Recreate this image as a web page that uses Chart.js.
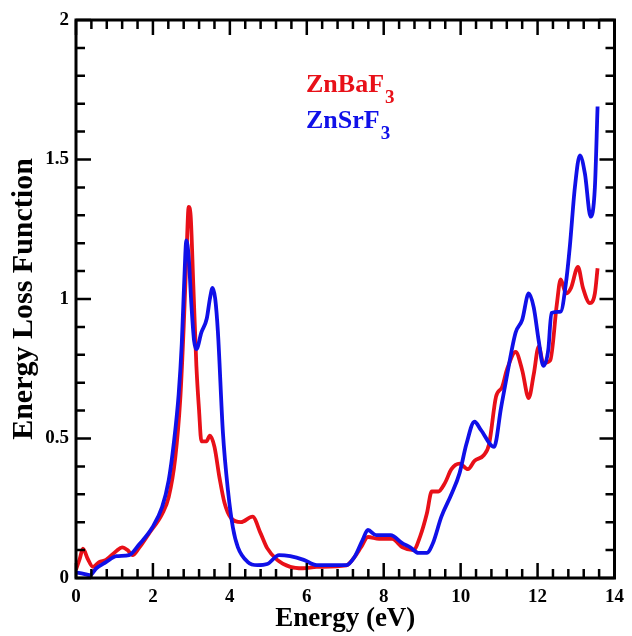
<!DOCTYPE html>
<html>
<head>
<meta charset="UTF-8">
<title>Energy Loss Function</title>
<script src="https://cdn.jsdelivr.net/npm/chart.js@4.4.1/dist/chart.umd.min.js"></script>
<style>
  * { margin: 0; padding: 0; }
  body { background: #fff; width: 632px; height: 636px; overflow: hidden; }
  canvas { display: block; }
</style>
</head>
<body>
<canvas id="elf" width="632" height="636"></canvas>
<script>
// ZnBaF3 (red)
const baX = [0.0, 0.1, 0.18, 0.3, 0.44, 0.6, 0.78, 1.05, 1.2, 1.34, 1.47, 1.64, 1.9, 2.24, 2.41, 2.58, 2.71, 2.8, 2.87, 2.93, 2.98, 3.05, 3.13, 3.2, 3.26, 3.39, 3.48, 3.6, 3.73, 3.86, 4.03, 4.29, 4.59, 4.8, 4.97, 5.23, 5.57, 5.9, 6.26, 7.03, 7.24, 7.41, 7.59, 7.88, 8.22, 8.49, 8.77, 8.95, 9.12, 9.25, 9.42, 9.59, 9.76, 9.97, 10.19, 10.36, 10.6, 10.74, 10.92, 11.08, 11.2, 11.43, 11.6, 11.77, 11.9, 12.03, 12.15, 12.33, 12.5, 12.6, 12.74, 12.87, 13.05, 13.18, 13.36, 13.49, 13.56];
const baY = [0.03, 0.07, 0.105, 0.07, 0.04, 0.057, 0.065, 0.097, 0.11, 0.10, 0.082, 0.108, 0.16, 0.23, 0.29, 0.43, 0.64, 0.9, 1.15, 1.33, 1.3, 1.05, 0.76, 0.6, 0.49, 0.49, 0.51, 0.47, 0.36, 0.27, 0.215, 0.2, 0.22, 0.16, 0.107, 0.065, 0.04, 0.035, 0.04, 0.045, 0.075, 0.11, 0.147, 0.14, 0.14, 0.11, 0.1, 0.15, 0.23, 0.31, 0.31, 0.34, 0.39, 0.41, 0.39, 0.42, 0.44, 0.48, 0.65, 0.685, 0.745, 0.81, 0.745, 0.645, 0.73, 0.83, 0.77, 0.78, 0.98, 1.07, 1.02, 1.04, 1.115, 1.04, 0.985, 1.02, 1.11];

// ZnSrF3 (blue)
const srX = [0.0, 0.2, 0.36, 0.53, 0.78, 1.05, 1.38, 1.64, 1.98, 2.24, 2.41, 2.54, 2.67, 2.75, 2.81, 2.87, 2.93, 3.0, 3.07, 3.13, 3.26, 3.4, 3.48, 3.55, 3.62, 3.69, 3.82, 3.95, 4.08, 4.21, 4.46, 4.72, 4.97, 5.28, 5.57, 5.92, 6.26, 7.03, 7.24, 7.45, 7.59, 7.8, 8.18, 8.48, 8.69, 8.9, 9.12, 9.28, 9.5, 9.76, 9.97, 10.15, 10.36, 10.53, 10.87, 11.05, 11.21, 11.43, 11.6, 11.77, 11.9, 12.03, 12.15, 12.28, 12.36, 12.6, 12.74, 12.84, 12.97, 13.1, 13.23, 13.38, 13.49, 13.56];
const srY = [0.02, 0.015, 0.01, 0.035, 0.057, 0.078, 0.082, 0.12, 0.18, 0.255, 0.35, 0.48, 0.66, 0.84, 1.05, 1.21, 1.15, 0.98, 0.85, 0.82, 0.88, 0.93, 1.0, 1.04, 1.0, 0.88, 0.52, 0.315, 0.18, 0.11, 0.058, 0.046, 0.05, 0.082, 0.078, 0.065, 0.046, 0.046, 0.075, 0.136, 0.172, 0.154, 0.154, 0.125, 0.11, 0.09, 0.09, 0.125, 0.22, 0.3, 0.375, 0.48, 0.56, 0.53, 0.47, 0.61, 0.73, 0.88, 0.925, 1.02, 0.97, 0.85, 0.76, 0.82, 0.95, 0.955, 1.06, 1.19, 1.40, 1.515, 1.45, 1.295, 1.40, 1.69];

const xTicks = [0, 2, 4, 6, 8, 10, 12, 14];
const yTicks = [0, 0.5, 1, 1.5, 2];

const pts = (xs, ys) => xs.map((x, i) => ({ x: x, y: ys[i] }));
const serif = "'Liberation Serif', 'Times New Roman', serif";

// frame with inward ticks on all four sides
const frame = {
  id: 'frame',
  afterDatasetsDraw(chart) {
    const { ctx, chartArea: a, scales } = chart;
    const xs = scales.x, ys = scales.y;
    ctx.save();
    ctx.strokeStyle = '#000';
    ctx.lineWidth = 2.5;
    ctx.beginPath();
    for (let v = 0; v <= 14.001; v += 0.4) {
      const px = xs.getPixelForValue(v);
      const major = Math.abs(v / 2 - Math.round(v / 2)) < 0.01;
      const len = major ? 15 : 9;
      ctx.moveTo(px, a.bottom); ctx.lineTo(px, a.bottom - len);
      ctx.moveTo(px, a.top); ctx.lineTo(px, a.top + len);
    }
    for (let v = 0; v <= 2.001; v += 0.1) {
      const py = ys.getPixelForValue(v);
      const major = Math.abs(v / 0.5 - Math.round(v / 0.5)) < 0.01;
      const len = major ? 15 : 9;
      ctx.moveTo(a.left, py); ctx.lineTo(a.left + len, py);
      ctx.moveTo(a.right, py); ctx.lineTo(a.right - len, py);
    }
    ctx.stroke();
    ctx.lineWidth = 3;
    ctx.strokeRect(a.left, a.top, a.right - a.left, a.bottom - a.top);
    ctx.restore();
  }
};

// legend text with subscripts
const labels = {
  id: 'labels',
  afterDraw(chart) {
    const ctx = chart.ctx;
    const items = [['ZnBaF', '#e81018', 92], ['ZnSrF', '#1010e8', 128]];
    ctx.save();
    ctx.textBaseline = 'alphabetic';
    items.forEach(([t, c, y]) => {
      ctx.fillStyle = c;
      ctx.font = 'bold 26px ' + serif;
      ctx.fillText(t, 306, y);
      const w = ctx.measureText(t).width;
      ctx.font = 'bold 19px ' + serif;
      ctx.fillText('3', 306 + w + 1, y + 11);
    });
    ctx.restore();
  }
};

new Chart(document.getElementById('elf'), {
  type: 'line',
  data: {
    datasets: [
      {
        label: 'ZnSrF3',
        data: pts(srX, srY),
        borderColor: '#1010e8',
        borderWidth: 3.8,
        pointRadius: 0,
        cubicInterpolationMode: 'monotone',
        order: 0
      },
      {
        label: 'ZnBaF3',
        data: pts(baX, baY),
        borderColor: '#e81018',
        borderWidth: 3.8,
        pointRadius: 0,
        cubicInterpolationMode: 'monotone',
        order: 1
      }
    ]
  },
  options: {
    responsive: false,
    animation: false,
    layout: { padding: { top: 20, right: 10, left: 0, bottom: 0 } },
    plugins: { legend: { display: false }, tooltip: { enabled: false } },
    scales: {
      x: {
        type: 'linear',
        min: 0, max: 14,
        grid: { display: false, drawTicks: false },
        border: { display: false },
        afterBuildTicks: s => { s.ticks = xTicks.map(v => ({ value: v })); },
        afterFit: s => { s.height = 58; },
        ticks: { color: '#000', padding: 8, callback: v => String(v),
                 font: { family: serif, size: 19, weight: 'bold' } },
        title: { display: true, text: 'Energy (eV)', color: '#000', padding: { top: 0, bottom: 1 },
                 font: { family: serif, size: 27, weight: 'bold' } }
      },
      y: {
        min: 0, max: 2,
        grid: { display: false, drawTicks: false },
        border: { display: false },
        afterBuildTicks: s => { s.ticks = yTicks.map(v => ({ value: v })); },
        afterFit: s => { s.width = 76; },
        ticks: { color: '#000', padding: 7, callback: v => String(v),
                 font: { family: serif, size: 19, weight: 'bold' } },
        title: { display: true, text: 'Energy Loss Function', color: '#000', padding: { top: 6, bottom: 0 },
                 font: { family: serif, size: 30, weight: 'bold' } }
      }
    }
  },
  plugins: [frame, labels]
});
</script>
</body>
</html>
